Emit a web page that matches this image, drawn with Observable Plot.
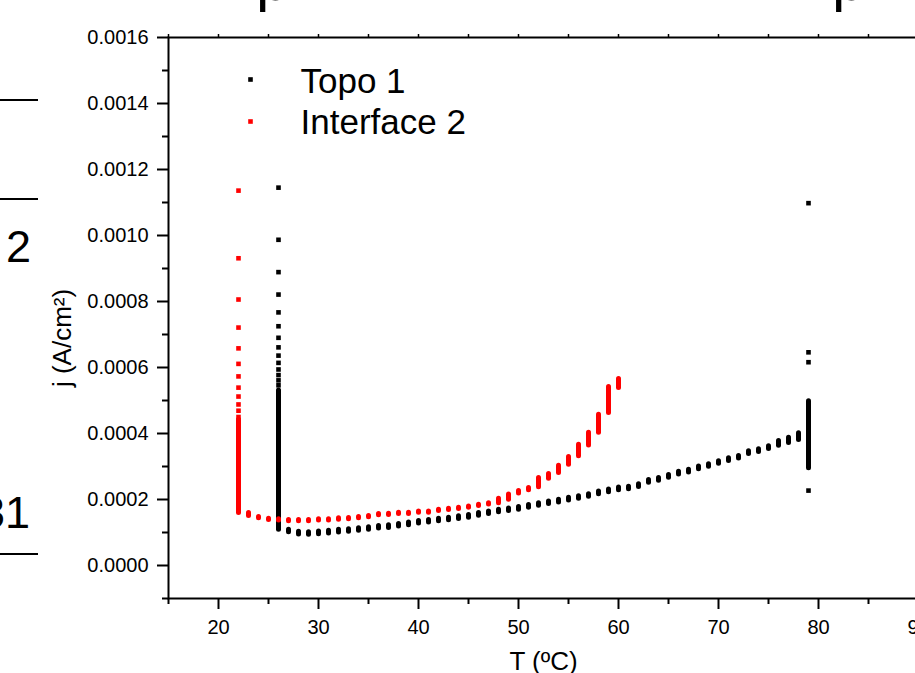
<!DOCTYPE html>
<html>
<head>
<meta charset="utf-8">
<script src="https://cdn.jsdelivr.net/npm/d3@7"></script>
<script src="https://cdn.jsdelivr.net/npm/@observablehq/plot@0.6"></script>
<style>
  html, body { margin: 0; padding: 0; background: white; overflow: hidden; }
  #wrap { position: relative; width: 915px; height: 673px; overflow: hidden; font-family: "Liberation Sans", Arial, sans-serif; }
  .frag { position: absolute; white-space: nowrap; color: black; font-family: "Liberation Sans", Arial, sans-serif; }
  .hline { position: absolute; height: 2px; background: black; }
</style>
</head>
<body>
<div id="wrap">
  <div id="chart"></div>
  <!-- cropped fragments of neighbouring content -->
  <span class="frag" style="left:256px; top:-50px; font-size:60px; line-height:60px;">p</span>
  <span class="frag" style="left:832px; top:-50px; font-size:60px; line-height:60px;">p</span>
  <div class="hline" style="left:0; top:99px; width:38px;"></div>
  <div class="hline" style="left:0; top:198px; width:38px;"></div>
  <span class="frag" style="left:6px; top:224px; font-size:45px; line-height:45px;">2</span>
  <span class="frag" style="left:-20px; top:490px; font-size:45px; line-height:45px;">31</span>
  <div class="hline" style="left:0; top:553px; width:38px;"></div>
</div>
<script>
// ---- Topo 1 (black): per-temperature ranges of j (A/cm²)
const topoT    = [26, 27, 28, 29, 30, 31, 32, 33, 34, 35, 36, 37, 38, 39, 40, 41, 42, 43, 44, 45, 46, 47, 48, 49, 50, 51, 52, 53, 54, 55, 56, 57, 58, 59, 60, 61, 62, 63, 64, 65, 66, 67, 68, 69, 70, 71, 72, 73, 74, 75, 76, 77, 78, 79];
const topoLow  = [0.000108, 0.000101, 0.000094, 0.000093, 0.000095, 0.000097, 0.000100, 0.000102, 0.000105, 0.000108, 0.000112, 0.000114, 0.000118, 0.000122, 0.000127, 0.000130, 0.000134, 0.000137, 0.000141, 0.000145, 0.000151, 0.000156, 0.000161, 0.000165, 0.000169, 0.000175, 0.000181, 0.000186, 0.000191, 0.000197, 0.000202, 0.000208, 0.000216, 0.000222, 0.000228, 0.000231, 0.000238, 0.000251, 0.000257, 0.000266, 0.000276, 0.000282, 0.000292, 0.000299, 0.000308, 0.000317, 0.000324, 0.000338, 0.000344, 0.000353, 0.000363, 0.000371, 0.000380, 0.000295];
const topoHigh = [0.000530, 0.000108, 0.000102, 0.000101, 0.000103, 0.000105, 0.000108, 0.000110, 0.000113, 0.000116, 0.000120, 0.000122, 0.000126, 0.000130, 0.000135, 0.000138, 0.000142, 0.000145, 0.000149, 0.000153, 0.000159, 0.000164, 0.000169, 0.000173, 0.000177, 0.000183, 0.000189, 0.000194, 0.000199, 0.000205, 0.000210, 0.000216, 0.000224, 0.000230, 0.000236, 0.000239, 0.000246, 0.000259, 0.000265, 0.000274, 0.000284, 0.000290, 0.000300, 0.000307, 0.000316, 0.000325, 0.000332, 0.000346, 0.000352, 0.000361, 0.000377, 0.000387, 0.000401, 0.000498];
// isolated Topo 1 points
const topoPtT = [26, 26, 26, 26, 26, 26, 26, 26, 26, 26, 26, 26, 26, 26, 79, 79, 79, 79];
const topoPtJ = [0.000546, 0.000561, 0.000577, 0.000594, 0.000614, 0.000636, 0.000661, 0.000690, 0.000725, 0.000767, 0.000821, 0.000889, 0.000987, 0.001145, 0.001098, 0.000646, 0.000616, 0.000227];

// ---- Interface 2 (red): per-temperature ranges of j (A/cm²)
const ifaceT    = [22, 23, 24, 25, 26, 27, 28, 29, 30, 31, 32, 33, 34, 35, 36, 37, 38, 39, 40, 41, 42, 43, 44, 45, 46, 47, 48, 49, 50, 51, 52, 53, 54, 55, 56, 57, 58, 59, 60];
const ifaceLow  = [0.000159, 0.000150, 0.000143, 0.000138, 0.000136, 0.000134, 0.000134, 0.000134, 0.000136, 0.000136, 0.000139, 0.000140, 0.000143, 0.000146, 0.000152, 0.000153, 0.000156, 0.000156, 0.000160, 0.000160, 0.000165, 0.000168, 0.000171, 0.000175, 0.000180, 0.000185, 0.000189, 0.000199, 0.000218, 0.000228, 0.000237, 0.000263, 0.000280, 0.000305, 0.000331, 0.000364, 0.000402, 0.000462, 0.000538];
const ifaceHigh = [0.000442, 0.000159, 0.000147, 0.000142, 0.000140, 0.000138, 0.000138, 0.000138, 0.000140, 0.000140, 0.000143, 0.000144, 0.000147, 0.000150, 0.000156, 0.000157, 0.000160, 0.000160, 0.000164, 0.000164, 0.000169, 0.000172, 0.000175, 0.000179, 0.000184, 0.000189, 0.000202, 0.000215, 0.000226, 0.000235, 0.000265, 0.000277, 0.000302, 0.000329, 0.000366, 0.000402, 0.000457, 0.000541, 0.000565];
// isolated Interface 2 points
const ifacePtT = [22, 22, 22, 22, 22, 22, 22, 22, 22, 22, 22, 22];
const ifacePtJ = [0.000450, 0.000469, 0.000488, 0.000512, 0.000539, 0.000573, 0.000611, 0.000658, 0.000721, 0.000806, 0.000931, 0.001136];

// ---- axes
const xMajor = [20, 30, 40, 50, 60, 70, 80, 90];
const xMinor = [15, 25, 35, 45, 55, 65, 75, 85];
const xAll   = [15, 20, 25, 30, 35, 40, 45, 50, 55, 60, 65, 70, 75, 80, 85, 90];
const yMajor = [0, 0.0002, 0.0004, 0.0006, 0.0008, 0.0010, 0.0012, 0.0014, 0.0016];
const yMinor = [-0.0001, 0.0001, 0.0003, 0.0005, 0.0007, 0.0009, 0.0011, 0.0013, 0.0015];
const seriesNames = ["Topo 1", "Interface 2"];
const seriesColors = ["#000000", "#ff0000"];

const topo = topoT.map((t, i) => ({T: t, lo: topoLow[i], hi: topoHigh[i]}));
const iface = ifaceT.map((t, i) => ({T: t, lo: ifaceLow[i], hi: ifaceHigh[i]}));
const topoPts = topoPtT.map((t, i) => ({T: t, j: topoPtJ[i]}));
const ifacePts = ifacePtT.map((t, i) => ({T: t, j: ifacePtJ[i]}));

const font = "Liberation Sans, Arial, sans-serif";

const chart = Plot.plot({
  width: 935,
  height: 690,
  marginLeft: 168,
  marginRight: 17,
  marginTop: 37,
  marginBottom: 92,
  style: {fontFamily: font, background: "white", maxWidth: "none", overflow: "visible"},
  x: {domain: [15, 90]},
  y: {domain: [-0.0001, 0.0016]},
  marks: [
    // data
    Plot.ruleX(topo, {x: "T", y1: "lo", y2: "hi", stroke: seriesColors[0], strokeWidth: 5, strokeLinecap: "round"}),
    Plot.dot(topoPts, {x: "T", y: "j", symbol: "square", r: 2.6, fill: seriesColors[0], stroke: null}),
    Plot.ruleX(iface, {x: "T", y1: "lo", y2: "hi", stroke: seriesColors[1], strokeWidth: 5, strokeLinecap: "round"}),
    Plot.dot(ifacePts, {x: "T", y: "j", symbol: "square", r: 2.6, fill: seriesColors[1], stroke: null}),
    // axes
    Plot.axisY({ticks: yMajor, tickSize: 11, tickPadding: 9, strokeWidth: 2, tickFormat: d3.format(".4f"), fontSize: 20, label: null, fill: "black"}),
    Plot.axisY({ticks: yMinor, tickSize: 6, strokeWidth: 2, tickFormat: () => "", label: null}),
    Plot.axisX({ticks: xMajor, tickSize: 11, tickPadding: 10, strokeWidth: 2, tickFormat: d3.format("d"), fontSize: 20, label: null, fill: "black"}),
    Plot.axisX({ticks: xMinor, tickSize: 6, strokeWidth: 2, tickFormat: () => "", label: null}),
    Plot.axisX({anchor: "top", ticks: xAll, tickSize: 4, strokeWidth: 1.5, tickFormat: () => "", label: null}),
    Plot.frame({stroke: "black", strokeWidth: 2}),
    // axis titles
    Plot.text(["j (A/cm²)"], {frameAnchor: "left", dx: -106, dy: 20, rotate: -90, textAnchor: "middle", lineAnchor: "middle", fontSize: 26, fill: "black"}),
    Plot.text(["T (ºC)"], {frameAnchor: "bottom", dy: 53, lineAnchor: "top", textAnchor: "middle", fontSize: 26, fill: "black"}),
    // legend
    Plot.dot([seriesNames[0]], {frameAnchor: "top-left", dx: 82, dy: 42, symbol: "square", r: 2.6, fill: seriesColors[0], stroke: null}),
    Plot.dot([seriesNames[1]], {frameAnchor: "top-left", dx: 82, dy: 84, symbol: "square", r: 2.6, fill: seriesColors[1], stroke: null}),
    Plot.text([seriesNames[0]], {frameAnchor: "top-left", dx: 132, dy: 44, textAnchor: "start", lineAnchor: "middle", fontSize: 35, fill: "black"}),
    Plot.text([seriesNames[1]], {frameAnchor: "top-left", dx: 132, dy: 85, textAnchor: "start", lineAnchor: "middle", fontSize: 35, fill: "black"})
  ]
});
document.getElementById("chart").appendChild(chart);
</script>
</body>
</html>
